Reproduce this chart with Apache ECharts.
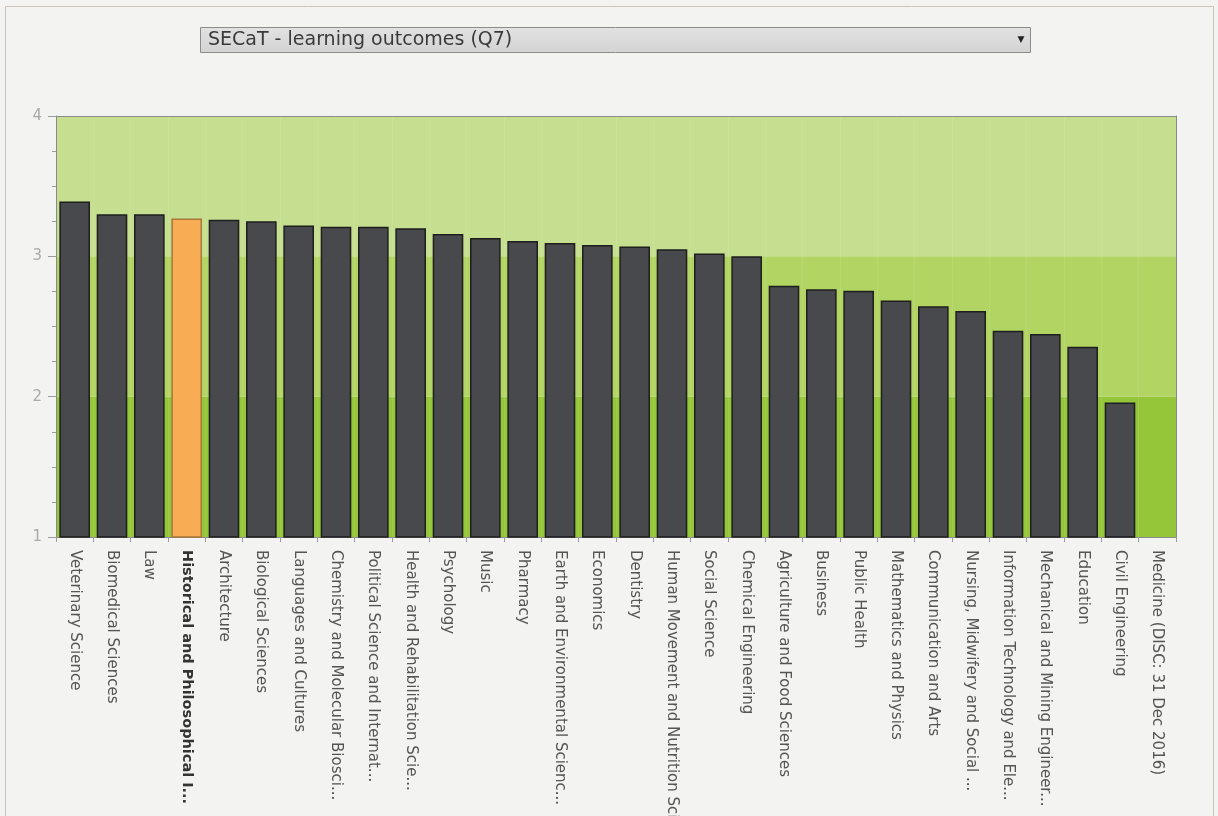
<!DOCTYPE html>
<html>
<head>
<meta charset="utf-8">
<script src="https://cdn.jsdelivr.net/npm/echarts@6/dist/echarts.min.js"></script>
<style>
html,body{margin:0;padding:0;background:#f3f3f1;}
#chart{width:1218px;height:816px;}
</style>
</head>
<body>
<div id="chart"></div>
<script>
const title = 'SECaT - learning outcomes (Q7)';
const categories = [
  'Veterinary Science','Biomedical Sciences','Law','Historical and Philosophical I...','Architecture',
  'Biological Sciences','Languages and Cultures','Chemistry and Molecular Biosci...','Political Science and Internat...',
  'Health and Rehabilitation Scie...','Psychology','Music','Pharmacy','Earth and Environmental Scienc...',
  'Economics','Dentistry','Human Movement and Nutrition Sciences','Social Science','Chemical Engineering',
  'Agriculture and Food Sciences','Business','Public Health','Mathematics and Physics','Communication and Arts',
  'Nursing, Midwifery and Social ...','Information Technology and Ele...','Mechanical and Mining Engineer...',
  'Education','Civil Engineering','Medicine (DISC: 31 Dec 2016)'
];
const values = [
  3.39, 3.30, 3.30, 3.27, 3.26,
  3.25, 3.22, 3.21, 3.21,
  3.20, 3.16, 3.13, 3.11, 3.095,
  3.08, 3.07, 3.05, 3.02, 3.00,
  2.79, 2.765, 2.755, 2.685, 2.645,
  2.61, 2.47, 2.447,
  2.355, 1.958, null
];
const highlighted = 'Historical and Philosophical I...';
const yTicks = [1, 2, 3, 4];

const chart = echarts.init(document.getElementById('chart'), null, {renderer: 'canvas'});
const font = '"DejaVu Sans", Verdana, sans-serif';

const seriesData = values.map((v, i) => {
  if (categories[i] === highlighted) {
    return {value: v, itemStyle: {color: '#f8ad55', borderColor: '#a9773a'}};
  }
  return v;
});

chart.setOption({
  backgroundColor: '#f3f3f1',
  animation: false,
  graphic: [
    {type: 'rect', shape: {x: 5.5, y: 6.5, width: 1208, height: 820}, style: {fill: 'none', stroke: '#cbc2b9', lineWidth: 1}, z: 0},
    {type: 'rect', shape: {x: 200.5, y: 27.5, width: 830, height: 25},
      style: {fill: new echarts.graphic.LinearGradient(0, 0, 0, 1, [{offset: 0, color: '#e2e2e2'}, {offset: 1, color: '#d3d3d3'}]), stroke: '#8c8c8c', lineWidth: 1}, z: 10},
    {type: 'text', x: 208, y: 40, style: {text: title, font: '19px ' + font, fill: '#3a3a3a', textVerticalAlign: 'middle'}, z: 11},
    {type: 'text', x: 1021, y: 40, style: {text: '▼', font: '9px ' + font, fill: '#222', textAlign: 'center', textVerticalAlign: 'middle'}, z: 11}
  ],
  grid: {left: 56, right: 42, top: 116, bottom: 279, containLabel: false, outerBoundsMode: 'none'},
  xAxis: [{
    type: 'category',
    data: categories,
    boundaryGap: true,
    axisLine: {lineStyle: {color: '#8a8a8a', width: 1}},
    axisTick: {show: true, length: 5, lineStyle: {color: '#9a9a9a'}},
    splitLine: {show: true, lineStyle: {color: 'rgba(255,255,255,0.10)'}},
    axisLabel: {
      rotate: -90, interval: 0, margin: 13,
      color: '#555', fontSize: 15, fontFamily: font,
      formatter: function (v) { return v === highlighted ? '{b|' + v + '}' : v; },
      rich: {b: {fontWeight: 'bold', color: '#333', fontSize: 14.5, fontFamily: font}}
    }
  }, {
    type: 'category', position: 'top', data: categories,
    axisLine: {lineStyle: {color: '#8a8a8a'}}, axisTick: {show: false}, axisLabel: {show: false}
  }],
  yAxis: [{
    type: 'value', min: 1, max: 4, interval: 1,
    axisLine: {show: true, lineStyle: {color: '#8a8a8a'}},
    axisTick: {show: true, length: 8, lineStyle: {color: '#9a9a9a'}},
    minorTick: {show: true, splitNumber: 4, length: 4, lineStyle: {color: '#9a9a9a'}},
    splitLine: {show: false},
    splitArea: {show: true, areaStyle: {color: ['#95c63a', '#b1d462', '#c5de8f']}},
    axisLabel: {color: '#aaa', fontSize: 15, fontFamily: font, margin: 14,
      formatter: function (v) { return yTicks.indexOf(v) >= 0 ? String(v) : ''; }}
  }, {
    type: 'value', position: 'right', min: 1, max: 4, interval: 1,
    axisLine: {show: true, lineStyle: {color: '#8a8a8a'}}, axisTick: {show: false}, axisLabel: {show: false}, splitLine: {show: false}
  }],
  series: [{
    type: 'bar',
    data: seriesData,
    barCategoryGap: '18%',
    itemStyle: {color: '#48494d', borderColor: '#1e1e1e', borderWidth: 1.5}
  }]
});
</script>
</body>
</html>
